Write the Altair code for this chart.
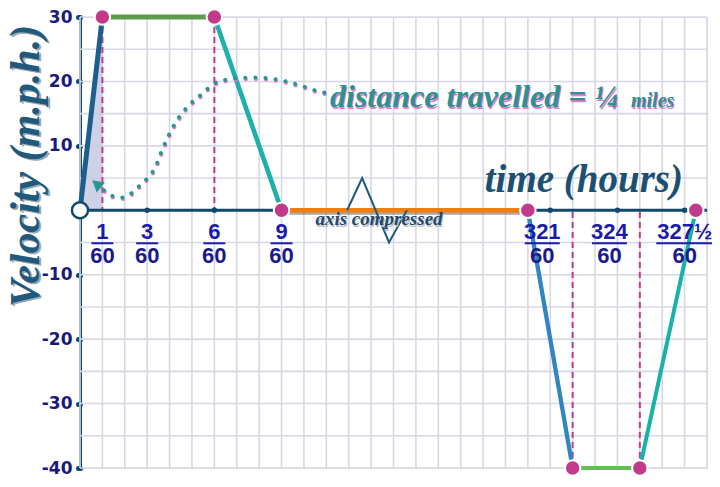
import altair as alt
import pandas as pd

# ---------------- data (time in minutes, velocity in mph) ----------------
times = [0, 1, 6, 9, 320, 322, 325, 327.5]
velocity = [0, 30, 30, 0, 0, -40, -40, 0]
segments = ["speeding up", "cruising", "slowing down", "parked",
            "reversing", "reverse cruising", "stopping"]
seg_colors = ["#1d5f8c", "#5d9b4b", "#1fb0aa", "#f07d0c", "#2f86c1", "#62be52", "#18b2ab"]
seg_widths = [5, 4, 6.5, 5, 6.5, 4, 6.5]

tick_top = ["1", "3", "6", "9", "321", "324", "327½"]
tick_at = [1, 3, 6, 9, 321, 324, 327.5]
tick_bottom = "60"
dot_ticks = [3, 6, 321, 324, 327]
y_ticks = [30, 20, 10, -10, -20, -30, -40]

# dotted annotation curve
curve_t = [1.07, 1.47, 1.88, 2.32, 2.68, 3.04, 3.35, 3.66, 4.15, 4.78, 5.36,
           6.12, 6.83, 7.73, 8.80, 32.2, 57.6, 66.4]
curve_v = [3.1, 2.2, 2.0, 2.7, 3.9, 5.1, 6.6, 9.3, 12.9, 16.0, 17.8,
           19.9, 20.4, 20.6, 20.3, 19.4, 18.4, 18.2]
arrow_t, arrow_v = [0.74], [4.1]
zig_t = [91.8, 110.8, 144.7, 167.3]
zig_v = [0, 5, -5, 0]

# ---------------- layout ----------------
W, H = 627, 451
COLS = 28
c = W / COLS


def col_to_min(k):
    if k <= 9:
        return k
    if k < 20:
        return 9 + (k - 9) * (320 - 9) / 11
    return 300 + k


x_scale = alt.Scale(domain=[0, 9, 320, 328], range=[0, 9 * c, 20 * c, 28 * c],
                    nice=False, zero=False)
y_scale = alt.Scale(domain=[-40, 30], nice=False, zero=False)

NAVY = "#0f4a6e"
SERIF = "Liberation Serif"
LABEL_FONT = "Liberation Sans"

y_axis = alt.Axis(values=y_ticks, title=None, grid=False, domainColor=NAVY, domainWidth=3,
                  tickColor=NAVY, tickSize=2, tickWidth=5, tickCap="round",
                  labelFont="DejaVu Sans", labelFontSize=17, labelFontWeight="bold",
                  labelColor="#1a1a7c", labelPadding=6, labelExpr="datum.value + ''")


def X(field):
    return alt.X(field, type="quantitative", scale=x_scale, axis=None)


def Y(field):
    return alt.Y(field, type="quantitative", scale=y_scale, axis=y_axis)


def X0(v):
    return alt.X(datum=v, scale=x_scale, axis=None)


def Y0():
    return alt.Y(datum=0, scale=y_scale, axis=y_axis)


one = pd.DataFrame({"a": [0]})

# ---------------- tables ----------------
rows = []
for i, name in enumerate(segments):
    rows.append({"seg": name, "o": 0, "t": times[i], "v": velocity[i]})
    rows.append({"seg": name, "o": 1, "t": times[i + 1], "v": velocity[i + 1]})
seg_df = pd.DataFrame(rows)
pts_df = pd.DataFrame({"t": times[1:], "v": velocity[1:]})
drop_df = pd.DataFrame({"t": [t for t, v in zip(times, velocity) if v != 0],
                        "v": [v for v in velocity if v != 0]})
area_df = pd.DataFrame({"t": times[:2], "v": velocity[:2]})
lab_df = pd.DataFrame({"top": tick_top, "at": tick_at, "bottom": tick_bottom})
curve_df = pd.DataFrame({"t": curve_t, "v": curve_v})
zig_df = pd.DataFrame({"t": zig_t, "v": zig_v})

# ---------------- layers ----------------
vgrid = alt.Chart(pd.DataFrame({"g": [col_to_min(k) for k in range(COLS + 1)]})).mark_rule(
    color="#d6d8e6", strokeWidth=1.6).encode(x=X("g"))
hgrid = alt.Chart(pd.DataFrame({"g": list(range(-40, 31, 5))})).mark_rule(
    color="#d6d8e6", strokeWidth=1.6).encode(y=Y("g"))

hatch = alt.Chart(area_df).mark_area(color="#c9cde3", opacity=0.9).encode(
    x=X("t"), y=Y("v"), y2=alt.datum(0))

drops = alt.Chart(drop_df).mark_rule(color="#c8388c", strokeWidth=2, strokeDash=[6, 4]).encode(
    x=X("t"), y=Y("v"), y2=alt.datum(0))

xaxis_line = alt.Chart(one).mark_rule(color=NAVY, strokeWidth=3).encode(
    x=X0(0), x2=alt.datum(328), y=Y0())
xdots = alt.Chart(pd.DataFrame({"t": dot_ticks})).mark_point(
    filled=True, color=NAVY, size=30, opacity=1).encode(x=X("t"), y=Y0())

orange_shadow = alt.Chart(seg_df).transform_filter("datum.seg == 'parked'").mark_line(
    color="#4a3b30", strokeWidth=5, opacity=0.45, yOffset=2).encode(x=X("t"), y=Y("v"))

lines = alt.Chart(seg_df).mark_line(strokeCap="round").encode(
    x=X("t"),
    y=Y("v"),
    color=alt.Color("seg:N", scale=alt.Scale(domain=segments, range=seg_colors), legend=None),
    strokeWidth=alt.StrokeWidth("seg:N", scale=alt.Scale(domain=segments, range=seg_widths),
                                legend=None),
    order="o:Q")

zig = alt.Chart(zig_df).mark_line(color="#1f5a80", strokeWidth=2).encode(x=X("t"), y=Y("v"))

curve_shadow = alt.Chart(curve_df).mark_line(
    color="#e07ad0", strokeWidth=4, strokeDash=[0.1, 10], strokeCap="round",
    interpolate="monotone", yOffset=1.5, xOffset=0.5).encode(x=X("t"), y=Y("v"))
curve = alt.Chart(curve_df).mark_line(
    color="#2a978f", strokeWidth=4, strokeDash=[0.1, 10], strokeCap="round",
    interpolate="monotone").encode(x=X("t"), y=Y("v"))
arrow = alt.Chart(pd.DataFrame({"t": arrow_t, "v": arrow_v})).mark_point(
    shape="triangle-up", filled=True, color="#2a978f", size=170, angle=310, opacity=1).encode(
    x=X("t"), y=Y("v"))

points = alt.Chart(pts_df).mark_point(
    filled=True, fill="#c23b8b", stroke="white", strokeWidth=2, size=240, opacity=1).encode(
    x=X("t"), y=Y("v"))
origin = alt.Chart(one).mark_point(
    filled=False, fill="white", fillOpacity=1, stroke=NAVY, strokeWidth=2.5, size=260,
    opacity=1).encode(x=X0(0), y=Y0())


def tick_labels(cond, dx):
    base = alt.Chart(lab_df).transform_filter(cond)
    num = base.mark_text(font=LABEL_FONT, fontSize=22, fontWeight="bold", color="#1b1ba8",
                         baseline="alphabetic", dy=29, dx=dx).encode(
        x=X("at"), y=Y0(), text="top:N")
    bar = base.transform_calculate(
        bw="datum.top == '327½' ? 57 : (length(datum.top) == 1 ? 22 : 35)").mark_tick(
        orient="horizontal", thickness=2, color="#1b1ba8", yOffset=33, xOffset=dx,
        opacity=1).encode(x=X("at"), y=Y0(), size=alt.Size("bw:Q", scale=None))
    den = base.mark_text(font=LABEL_FONT, fontSize=22, fontWeight="bold", color="#1a1a8a",
                         baseline="alphabetic", dy=53, dx=dx).encode(
        x=X("at"), y=Y0(), text="bottom:N")
    return [num, bar, den]


labels = (tick_labels("datum.at < 100", 0)
          + tick_labels("datum.at > 100 && datum.at < 327", -8)
          + tick_labels("datum.at > 327", -11))


def note(text, x, y, size, color, align="left", angle=0, shadow=None, sdx=1, sdy=1.5):
    out = []
    if shadow:
        out.append(alt.Chart(one).mark_text(
            text=text, font=SERIF, fontSize=size, fontStyle="italic", fontWeight="bold",
            color=shadow, align=align, baseline="alphabetic", angle=angle).encode(
            x=alt.value(x + sdx), y=alt.value(y + sdy)))
    out.append(alt.Chart(one).mark_text(
        text=text, font=SERIF, fontSize=size, fontStyle="italic", fontWeight="bold",
        color=color, align=align, baseline="alphabetic", angle=angle).encode(
        x=alt.value(x), y=alt.value(y)))
    return out


texts = (
    note("Velocity (m.p.h.)", -41, 149, 42, "#1f5a7c", align="center", angle=270,
         shadow="#9aa7b3", sdx=1.5, sdy=1.5)
    + note("time (hours)", 603, 175, 39, "#1c5072", align="right")
    + note("distance travelled = ¼", 250, 90, 32, "#2a938b", shadow="#e37bd3")
    + note("miles", 551, 90, 20, "#2a938b", shadow="#e37bd3")
    + note("axis compressed", 299, 208, 19, "#1f4a6a", align="center", shadow="#b8bcc6")
)

chart = alt.layer(
    vgrid, hgrid, hatch, drops, xaxis_line, xdots, orange_shadow, lines, zig,
    curve_shadow, curve, arrow, points, origin, *labels, *texts
).properties(
    width=W, height=H,
    autosize=alt.AutoSizeParams(type="none"),
    padding={"left": 72, "top": 9, "right": 5, "bottom": 10},
).configure_view(stroke=None).configure(background="white")

chart.save("out.html", embed_options={"renderer": "svg", "actions": False})
